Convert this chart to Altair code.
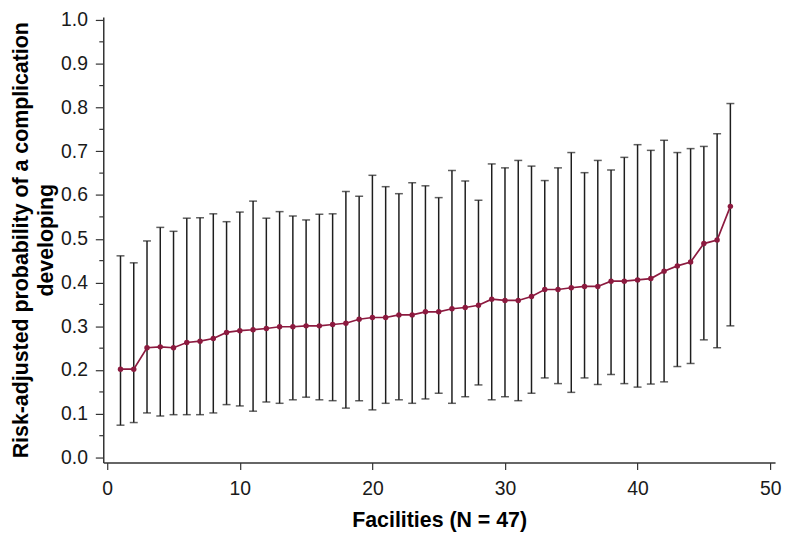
import altair as alt
import pandas as pd

facility = list(range(1, 48))
estimate = [0.202, 0.202, 0.251, 0.253, 0.251, 0.263, 0.266, 0.272, 0.286, 0.290,
            0.292, 0.295, 0.299, 0.299, 0.301, 0.301, 0.304, 0.307, 0.316, 0.320,
            0.320, 0.326, 0.326, 0.333, 0.333, 0.340, 0.343, 0.348, 0.362, 0.359,
            0.359, 0.368, 0.384, 0.384, 0.388, 0.391, 0.391, 0.403, 0.403, 0.406,
            0.409, 0.426, 0.438, 0.447, 0.489, 0.497, 0.574]
upper = [0.461, 0.445, 0.495, 0.526, 0.517, 0.547, 0.548, 0.557, 0.539, 0.561,
         0.586, 0.547, 0.562, 0.552, 0.543, 0.556, 0.557, 0.608, 0.597, 0.645,
         0.619, 0.603, 0.628, 0.621, 0.594, 0.656, 0.632, 0.588, 0.671, 0.662,
         0.679, 0.666, 0.633, 0.662, 0.697, 0.651, 0.679, 0.657, 0.686, 0.715,
         0.702, 0.725, 0.697, 0.706, 0.711, 0.740, 0.809]
lower = [0.074, 0.080, 0.102, 0.095, 0.098, 0.098, 0.098, 0.102, 0.121, 0.118,
         0.106, 0.127, 0.124, 0.132, 0.138, 0.132, 0.130, 0.113, 0.130, 0.109,
         0.124, 0.132, 0.124, 0.134, 0.147, 0.124, 0.139, 0.166, 0.132, 0.139,
         0.130, 0.147, 0.182, 0.169, 0.149, 0.182, 0.167, 0.190, 0.169, 0.161,
         0.168, 0.173, 0.208, 0.215, 0.269, 0.251, 0.301]

x_ticks = [0, 10, 20, 30, 40, 50]
y_ticks = [0.0, 0.1, 0.2, 0.3, 0.4, 0.5, 0.6, 0.7, 0.8, 0.9, 1.0]
y_minor = [0.05, 0.15, 0.25, 0.35, 0.45, 0.55, 0.65, 0.75, 0.85, 0.95]

df = pd.DataFrame({"facility": facility, "estimate": estimate,
                   "lower": lower, "upper": upper})
minor_df = pd.DataFrame({"v": y_minor})

FONT = "Liberation Sans"
LINE_COLOR = "#8c1a3f"
BAR_COLOR = "#1e1e1e"
AXIS_COLOR = "#333333"

xscale = alt.Scale(domain=[-0.3, 50.37], nice=False, zero=False)
yscale = alt.Scale(domain=[-0.0113, 1.0068], nice=False, zero=False)

x_enc = alt.X("facility:Q", scale=xscale,
              axis=alt.Axis(values=x_ticks, title="Facilities (N = 47)",
                            tickSize=7, labelPadding=10, titlePadding=12,
                            titleFontSize=21.5))
y_axis = alt.Axis(values=y_ticks, format=".1f",
                  title=["Risk-adjusted probability of a complication", "developing"],
                  tickSize=8, labelPadding=8, titlePadding=3,
                  titleFontSize=21.5, titleLineHeight=25)

bars = alt.Chart(df).mark_rule(color=BAR_COLOR, strokeWidth=1.5).encode(
    x=x_enc,
    y=alt.Y("lower:Q", scale=yscale, axis=y_axis),
    y2="upper:Q",
)
cap_lo = alt.Chart(df).mark_tick(color=BAR_COLOR, orient="horizontal",
                                 size=8, thickness=1.5).encode(
    x="facility:Q", y=alt.Y("lower:Q", scale=yscale))
cap_hi = alt.Chart(df).mark_tick(color=BAR_COLOR, orient="horizontal",
                                 size=8, thickness=1.5).encode(
    x="facility:Q", y=alt.Y("upper:Q", scale=yscale))
line = alt.Chart(df).mark_line(color=LINE_COLOR, strokeWidth=1.7).encode(
    x="facility:Q", y=alt.Y("estimate:Q", scale=yscale))
pts = alt.Chart(df).mark_circle(color=LINE_COLOR, opacity=1, size=30).encode(
    x="facility:Q", y=alt.Y("estimate:Q", scale=yscale))
minor = alt.Chart(minor_df).mark_rule(color=AXIS_COLOR, strokeWidth=1.2).encode(
    y=alt.Y("v:Q", scale=yscale), x=alt.value(-4), x2=alt.value(0))

chart = alt.layer(bars, cap_lo, cap_hi, line, pts, minor).properties(
    width=677, height=449,
    background="white",
    autosize=alt.AutoSizeParams(type="none"),
    padding={"left": 96, "top": 7, "right": 7, "bottom": 70},
).configure_view(stroke=None).configure_axis(
    grid=False,
    labelFont=FONT, titleFont=FONT,
    labelFontSize=19.5, titleFontWeight="bold",
    labelColor="#1a1a1a", titleColor="#000000",
    domainColor=AXIS_COLOR, tickColor=AXIS_COLOR,
    domainWidth=1.5, tickWidth=1.2,
)

chart.save("out.html", embed_options={"renderer": "svg", "actions": False})
